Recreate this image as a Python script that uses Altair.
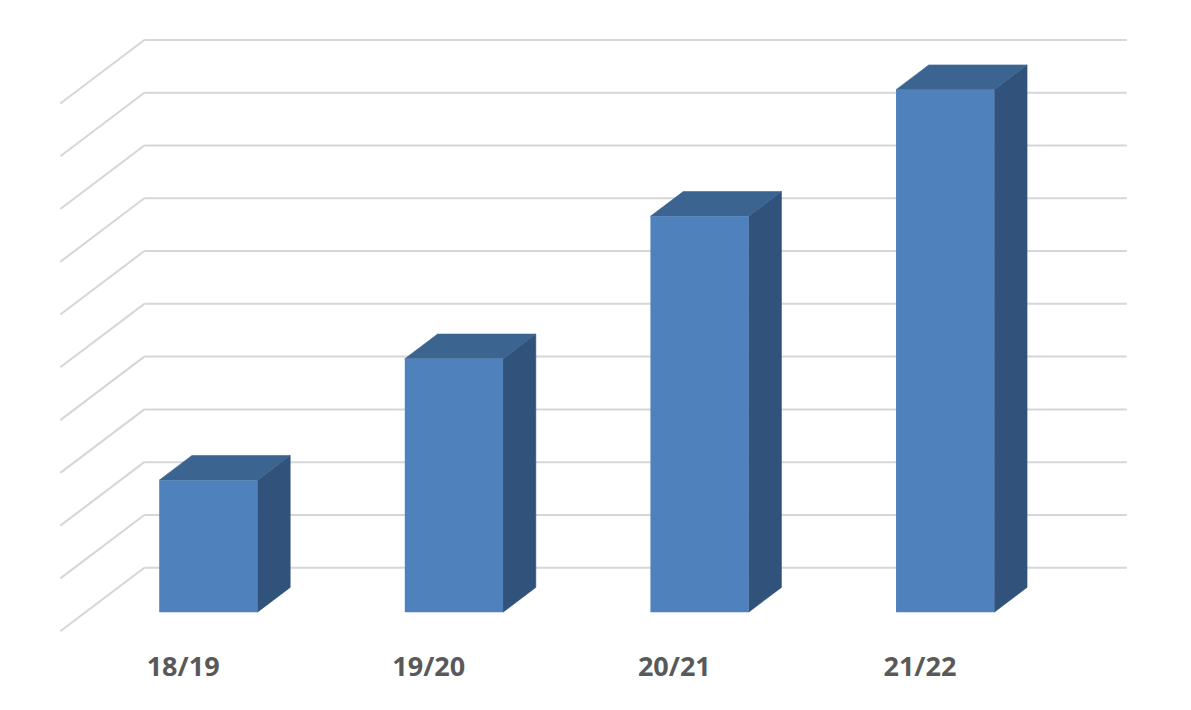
import altair as alt
import pandas as pd

# ---- data ----
seasons = ["18/19", "19/20", "20/21", "21/22"]
values = [2.5, 4.8, 7.5, 9.9]          # in gridline units (no axis labels in source)
grid_levels = list(range(0, 11))        # 11 gridlines

# ---- oblique projection parameters (chart style) ----
DX = -0.342     # x shift (category units) per unit of depth toward the viewer
DY = -1.203     # y shift (value units) per unit of depth toward the viewer
Z_FRONT = 0.70  # depth of bar front face
Z_BACK = 0.31   # depth of bar back face
HALF = 0.20     # half bar width (category units)
WALL_L, WALL_R = -0.5, 3.5

W, H = 1175, 694
xs = alt.Scale(domain=[-1.055, 3.729], zero=False, nice=False)
ys = alt.Scale(domain=[-2.545, 10.606], zero=False, nice=False)

GRID = "#D6D6D6"
FRONT = "#4F81BD"
TOP = "#3C6491"
SIDE = "#31527A"

# gridlines: back wall + left wall diagonals
back = pd.DataFrame({"x": [WALL_L] * len(grid_levels), "x2": [WALL_R] * len(grid_levels),
                     "y": grid_levels})
diag = pd.DataFrame({"x": [WALL_L] * len(grid_levels),
                     "x2": [WALL_L + DX] * len(grid_levels),
                     "y": grid_levels,
                     "y2": [g + DY for g in grid_levels]})

# bars
rows_front, rows_side, rows_top, rows_lab = [], [], [], []
for i, (s, v) in enumerate(zip(seasons, values)):
    rows_front.append({"bar": s,
                       "x": i - HALF + DX * Z_FRONT, "x2": i + HALF + DX * Z_FRONT,
                       "y": DY * Z_FRONT, "y2": v + DY * Z_FRONT})
    for z in (Z_FRONT, Z_BACK):
        rows_side.append({"bar": s, "x": i + HALF + DX * z,
                          "y": v + DY * z, "y2": DY * z})
        rows_top.append({"bar": s, "y": v + DY * z,
                         "x": i - HALF + DX * z, "x2": i + HALF + DX * z})
    rows_lab.append({"label": s, "x": i + DX * 1.0, "y": DY * 1.0})

front = pd.DataFrame(rows_front)
side = pd.DataFrame(rows_side)
top = pd.DataFrame(rows_top)
labs = pd.DataFrame(rows_lab)

noaxis = None

back_rules = alt.Chart(back).mark_rule(color=GRID, strokeWidth=2).encode(
    x=alt.X("x:Q", scale=xs, axis=noaxis), x2="x2:Q",
    y=alt.Y("y:Q", scale=ys, axis=noaxis))
diag_rules = alt.Chart(diag).mark_rule(color=GRID, strokeWidth=2).encode(
    x=alt.X("x:Q", scale=xs, axis=noaxis), x2="x2:Q",
    y=alt.Y("y:Q", scale=ys, axis=noaxis), y2="y2:Q")

side_area = alt.Chart(side).mark_area(color=SIDE, stroke=SIDE, strokeWidth=0.6).encode(
    x=alt.X("x:Q", scale=xs, axis=noaxis),
    y=alt.Y("y:Q", scale=ys, axis=noaxis), y2="y2:Q",
    detail="bar:N")
top_area = alt.Chart(top).mark_area(orient="horizontal", color=TOP, stroke=TOP,
                                    strokeWidth=0.6).encode(
    y=alt.Y("y:Q", scale=ys, axis=noaxis),
    x=alt.X("x:Q", scale=xs, axis=noaxis), x2="x2:Q",
    detail="bar:N")
front_rect = alt.Chart(front).mark_rect(color=FRONT).encode(
    x=alt.X("x:Q", scale=xs, axis=noaxis), x2="x2:Q",
    y=alt.Y("y:Q", scale=ys, axis=noaxis), y2="y2:Q")

labels = alt.Chart(labs).mark_text(font="Open Sans", fontWeight="bold", fontSize=27,
                                   color="#595959", baseline="middle", align="center",
                                   dy=37).encode(
    x=alt.X("x:Q", scale=xs, axis=noaxis),
    y=alt.Y("y:Q", scale=ys, axis=noaxis),
    text="label:N")

chart = alt.layer(back_rules, diag_rules, side_area, top_area, front_rect, labels).properties(
    width=W, height=H, padding=0, autosize=alt.AutoSizeParams(type="none"),
    background="white"
).configure_view(stroke=None)

chart.save("out.html", embed_options={"renderer": "svg", "actions": False})
